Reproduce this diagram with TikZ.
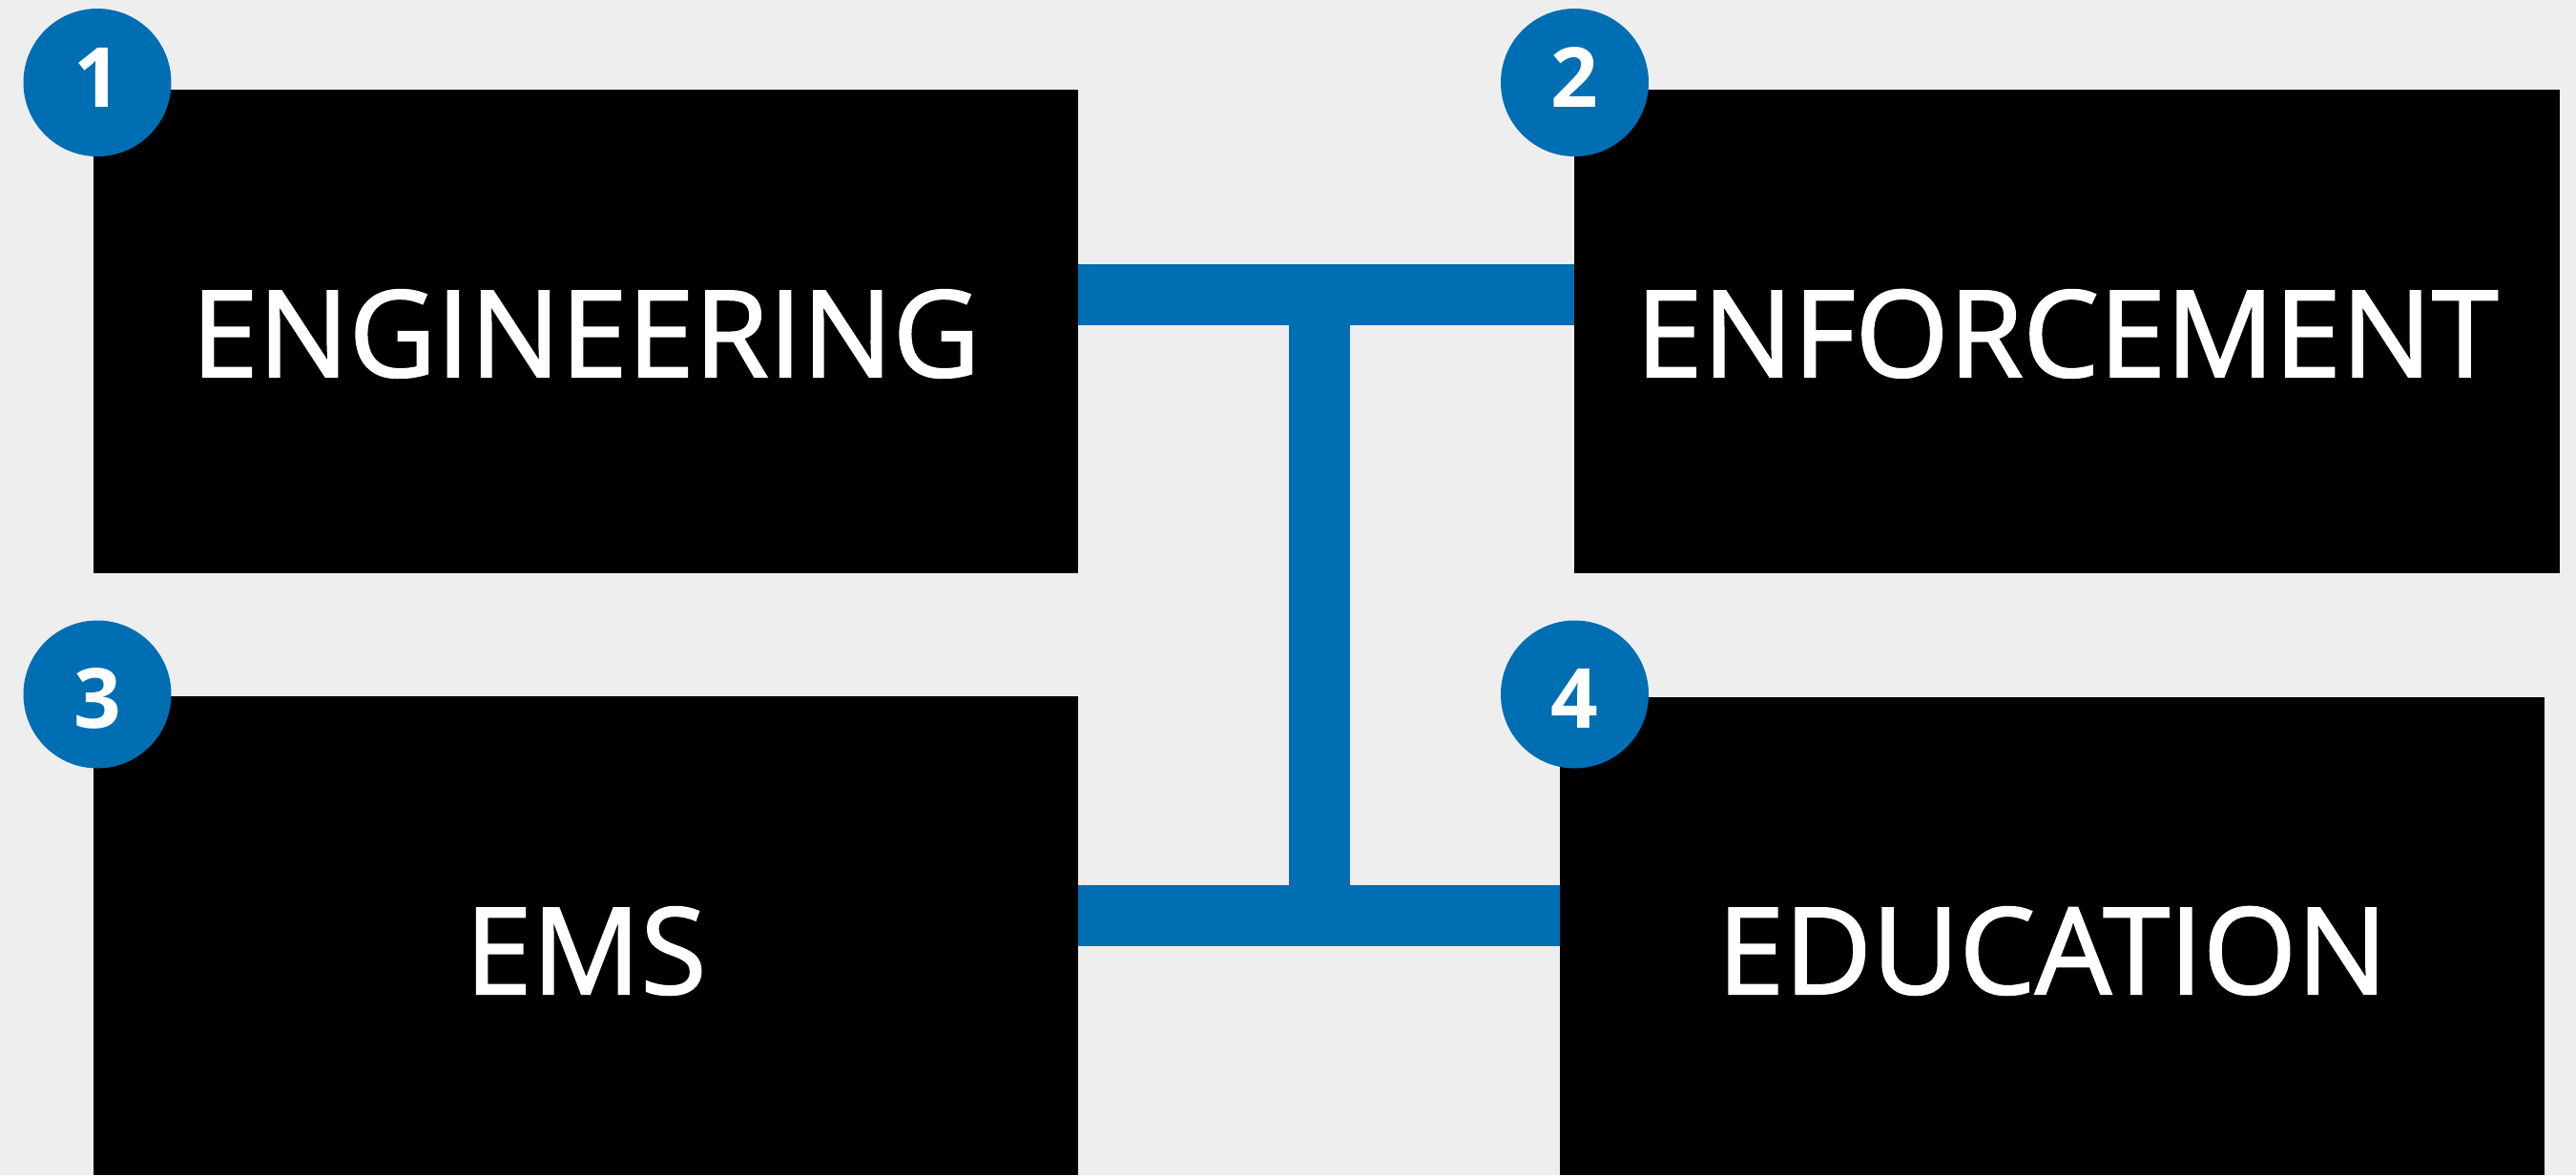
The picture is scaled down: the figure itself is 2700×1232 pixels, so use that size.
\documentclass[tikz,border=0pt]{standalone}
\usepackage{fontspec}
\setmainfont{Open Sans}
\newfontfamily\lblfont{Open Sans}[FakeBold=1.6]
\definecolor{bgc}{HTML}{EEEEEE}
\definecolor{blu}{RGB}{0,110,179}
\begin{document}
\begin{tikzpicture}[x=1pt,y=-1pt,
  boxc/.style={rectangle, fill=black, draw=none, inner sep=0pt, outer sep=0pt},
  lbl/.style={text=white, inner sep=0pt, font=\lblfont\fontsize{126}{150}\selectfont},
  numc/.style={circle, fill=blu, draw=none, minimum size=155pt, inner sep=0pt, outer sep=0pt},
  numt/.style={text=white, inner sep=0pt, font=\fontsize{87}{100}\selectfont\bfseries},
  bar/.style={draw=blu, line width=64pt}]
\fill[bgc] (0,0) rectangle (2700,1232);
\useasboundingbox (0,0) rectangle (2700,1232);
% boxes
\node[boxc, minimum width=1032pt, minimum height=507pt] (b1) at (614,347.5) {};
\node[boxc, minimum width=1033pt, minimum height=507pt] (b2) at (2166.5,347.5) {};
\node[boxc, minimum width=1032pt, minimum height=502pt] (b3) at (614,981) {};
\node[boxc, minimum width=1032pt, minimum height=501pt] (b4) at (2151,981.5) {};
% connector junctions
\coordinate (tj) at (1383,309);
\coordinate (bj) at (1383,959.5);
\draw[bar] (tj) -- (bj);
\draw[bar] (b1.east |- tj) -- (b2.west |- tj);
\draw[bar] (b3.east |- bj) -- (b4.west |- bj);
% labels
\node[lbl, anchor=base] (t1) at (b1.center |- 0,395) {ENGINEERING};
\node[lbl, anchor=base] (t2) at (b2.center |- 0,395) {ENFORCEMENT};
\node[lbl, anchor=base] (t3) at (b3.center |- 0,1042) {EMS};
\node[lbl, anchor=base] (t4) at (b4.center |- 0,1042) {EDUCATION};
% number circles
\node[numc] (c1) at (102,86.5) {};
\node[numc] (c2) at (1650.5,86.5) {};
\node[numc] (c3) at (102,728) {};
\node[numc] (c4) at (1650.5,728) {};
\node[numt, anchor=base] (n1) at (c1.center |- 0,112) {1};
\node[numt, anchor=base] (n2) at (c2.center |- 0,112) {2};
\node[numt, anchor=base] (n3) at (c3.center |- 0,763) {3};
\node[numt, anchor=base] (n4) at (c4.center |- 0,763) {4};
\end{tikzpicture}
\end{document}
